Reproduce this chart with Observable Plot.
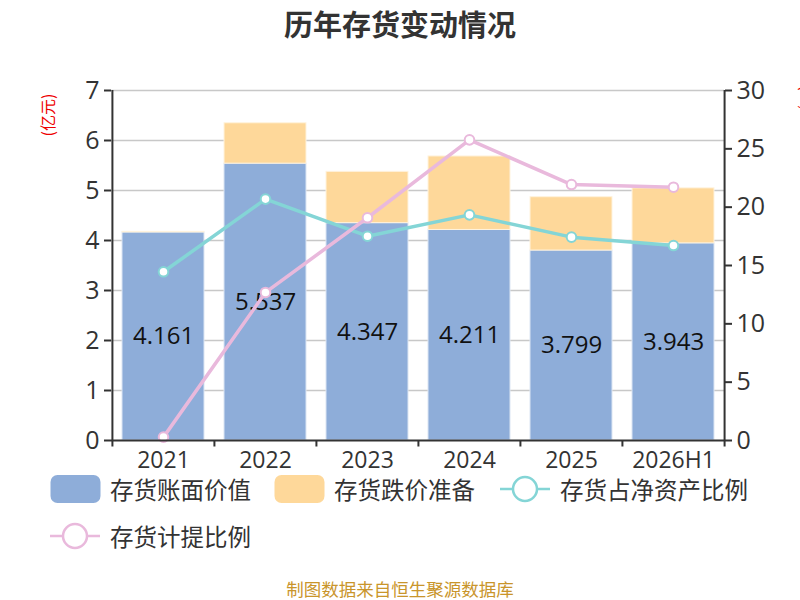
<!DOCTYPE html>
<html>
<head>
<meta charset="utf-8">
<script src="https://cdn.jsdelivr.net/npm/d3@7"></script>
<script src="https://cdn.jsdelivr.net/npm/@observablehq/plot@0.6"></script>
<style>
  body { margin: 0; background: #fff; font-family: "Noto Sans CJK SC", "Noto Sans", sans-serif; }
  #wrap { position: relative; width: 800px; height: 600px; overflow: hidden; }
  #title { position: absolute; left: 0; top: 0; width: 800px; height: 50px; line-height: 46px; text-align: center; font-size: 29px; font-weight: bold; color: #333; }
  #chart { position: absolute; left: 0; top: 50px; }
  .lg { position: absolute; font-size: 23.5px; color: #333; line-height: 24px; white-space: nowrap; }
  .unit { position: absolute; color: #e00; font-size: 16px; white-space: nowrap; }
  #footer { position: absolute; left: 0; top: 579px; width: 800px; height: 20px; line-height: 20px; text-align: center; font-size: 17.5px; color: #c9952b; }
</style>
</head>
<body>
<div id="wrap">
  <div id="title">历年存货变动情况</div>
  <div id="chart"></div>
  <div class="unit" style="left:47px; top:115px; transform: translate(-50%,-50%) rotate(-90deg);">(亿元)</div>
  <div class="unit" style="left:808px; top:98px; transform: translate(-50%,-50%) rotate(90deg);">(%)</div>
  <div id="legend"></div>
  <div id="footer">制图数据来自恒生聚源数据库</div>
</div>
<script>
// ---- data ----
const years = ["2021", "2022", "2023", "2024", "2025", "2026H1"];
const bookValue = [4.161, 5.537, 4.347, 4.211, 3.799, 3.943];        // 存货账面价值 (亿元)
const provision = [0.012, 0.808, 1.026, 1.47, 1.067, 1.10];          // 存货跌价准备 (亿元)
const netAssetRatio = [14.46, 20.69, 17.51, 19.34, 17.43, 16.71];   // 存货占净资产比例 (%)
const provisionRatio = [0.29, 12.69, 19.09, 25.77, 21.94, 21.71];   // 存货计提比例 (%)
const leftTicks = [0, 1, 2, 3, 4, 5, 6, 7];
const rightTicks = [0, 5, 10, 15, 20, 25, 30];

const seriesNames = ["存货账面价值", "存货跌价准备", "存货占净资产比例", "存货计提比例"];
const colors = ["#8eadd9", "#fed89a", "#84d5d6", "#e9b9dc"];

const leftMax = 7, rightMax = 30;
const toLeft = v => v * leftMax / rightMax;

const rows = years.map((y, i) => ({
  year: y, book: bookValue[i], prov: provision[i],
  top: bookValue[i] + provision[i],
  r1: toLeft(netAssetRatio[i]), r2: toLeft(provisionRatio[i])
}));

const W = 800, H = 430;
const mL = 111, mR = 76, mT = 40, mB = 40;
const step = (W - mL - mR) / years.length;
const axisColor = "#333";
const numFont = "Open Sans";

const plot = Plot.plot({
  width: W, height: H,
  marginLeft: mL, marginRight: mR, marginTop: mT, marginBottom: mB,
  style: { fontFamily: numFont, background: "transparent", overflow: "visible" },
  x: { domain: years, paddingInner: 0.2, paddingOuter: 0.1, axis: null },
  y: { domain: [0, leftMax], axis: null },
  marks: [
    Plot.gridY(leftTicks.slice(1), { stroke: "#c8c8c8", strokeOpacity: 1, strokeWidth: 1.6 }),
    Plot.barY(rows, { x: "year", y1: 0, y2: "book", fill: colors[0], stroke: "#dbe5f3", strokeWidth: 1 }),
    Plot.barY(rows, { x: "year", y1: "book", y2: "top", fill: colors[1], stroke: "#fff3dd", strokeWidth: 1 }),
    Plot.text(rows, { x: "year", y: d => d.book / 2, text: d => d.book.toFixed(3), fontSize: 24, fill: "#111" }),
    Plot.line(rows, { x: "year", y: "r1", stroke: colors[2], strokeWidth: 3.5 }),
    Plot.line(rows, { x: "year", y: "r2", stroke: colors[3], strokeWidth: 3.5 }),
    Plot.dot(rows, { x: "year", y: "r1", r: 4.8, fill: "#fff", stroke: colors[2], strokeWidth: 2 }),
    Plot.dot(rows, { x: "year", y: "r2", r: 4.8, fill: "#fff", stroke: colors[3], strokeWidth: 2 }),
    // axis lines
    Plot.ruleY([0], { stroke: axisColor, strokeWidth: 2 }),
    Plot.ruleX([years[0]], { dx: -step / 2, y1: 0, y2: leftMax, stroke: axisColor, strokeWidth: 2 }),
    Plot.ruleX([years[years.length - 1]], { dx: step / 2, y1: 0, y2: leftMax, stroke: axisColor, strokeWidth: 2 }),
    // x ticks at band boundaries
    Plot.ruleX(years, { dx: -step / 2, y1: 0, y2: -0.13, stroke: axisColor, strokeWidth: 2 }),
    Plot.ruleX([years[years.length - 1]], { dx: step / 2, y1: 0, y2: -0.13, stroke: axisColor, strokeWidth: 2 }),
    Plot.axisX({ tickSize: 0, tickPadding: 11, fontSize: 23, color: axisColor, label: null }),
    Plot.axisY(leftTicks, { anchor: "left", tickSize: 7, tickPadding: 5, fontSize: 25, color: axisColor, strokeWidth: 2, tickFormat: d3.format("d"), label: null }),
    Plot.axisY(rightTicks.map(toLeft), { anchor: "right", tickSize: 7, tickPadding: 5, fontSize: 25, color: axisColor, strokeWidth: 2, tickFormat: d => Math.round(d * rightMax / leftMax), label: null })
  ]
});
document.getElementById("chart").appendChild(plot);

// ---- legend ----
const legend = document.getElementById("legend");
const items = [
  { name: seriesNames[0], color: colors[0], type: "rect", x: 50, y: 489 },
  { name: seriesNames[1], color: colors[1], type: "rect", x: 274, y: 489 },
  { name: seriesNames[2], color: colors[2], type: "line", x: 500, y: 489 },
  { name: seriesNames[3], color: colors[3], type: "line", x: 50, y: 536 }
];
items.forEach(it => {
  const s = document.createElementNS("http://www.w3.org/2000/svg", "svg");
  s.setAttribute("width", 52); s.setAttribute("height", 30);
  s.style.position = "absolute"; s.style.left = it.x + "px"; s.style.top = (it.y - 15) + "px";
  if (it.type === "rect") {
    s.innerHTML = `<rect x="0.5" y="1" width="50" height="28" rx="7" fill="${it.color}"/>`;
  } else {
    s.innerHTML = `<line x1="0" x2="50" y1="15" y2="15" stroke="${it.color}" stroke-width="2.5"/>` +
      `<circle cx="25" cy="15" r="12" fill="#fff" stroke="${it.color}" stroke-width="2.5"/>`;
  }
  legend.appendChild(s);
  const t = document.createElement("div");
  t.className = "lg"; t.textContent = it.name;
  t.style.left = (it.x + 60) + "px"; t.style.top = (it.y - 12) + "px";
  legend.appendChild(t);
});
</script>
</body>
</html>
